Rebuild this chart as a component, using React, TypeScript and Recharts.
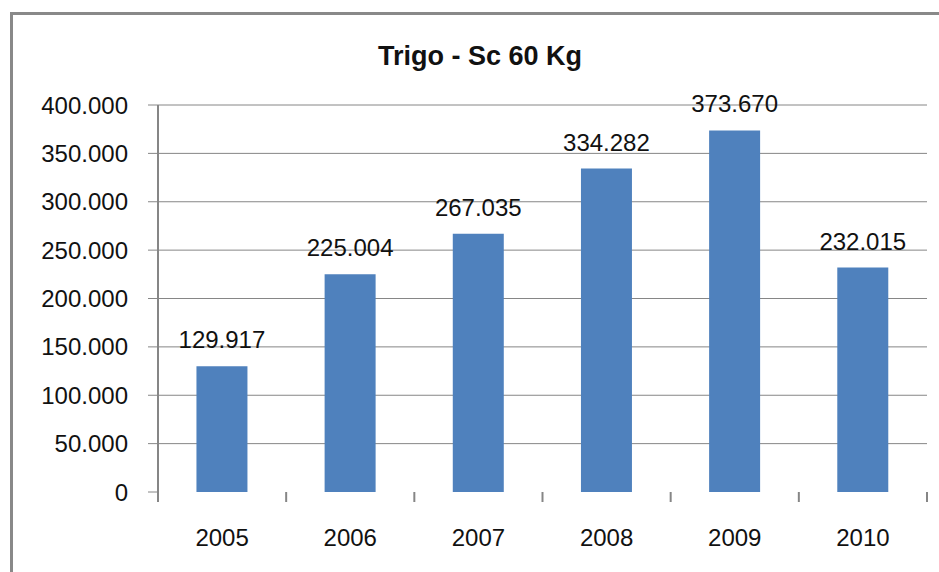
import React from "react";
import { BarChart, Bar, XAxis, YAxis, CartesianGrid, LabelList } from "recharts";

const years = ["2005", "2006", "2007", "2008", "2009", "2010"];
const sacas = [129917, 225004, 267035, 334282, 373670, 232015];
const yTicks = [0, 50000, 100000, 150000, 200000, 250000, 300000, 350000, 400000];
const Y_MAX = 400000;

const data = years.map((ano, i) => ({ ano, valor: sacas[i] }));

const GRAY = "#868686";
const BLUE = "#4F81BD";

// 400000 -> "400.000"
const fmt = (v: number) => String(v).replace(/\B(?=(\d{3})+(?!\d))/g, ".");

// grade sem a linha do zero
const gridYs = ({ yAxis, offset }: any) => {
  const s = yAxis && yAxis.scale;
  return yTicks
    .filter((v) => v > 0)
    .map((v) => {
      if (typeof s === "function") return s(v);
      if (s && typeof s.map === "function") return s.map(v);
      return offset.top + offset.height * (1 - v / Y_MAX);
    });
};

// categoria + tick nos limites (estilo Excel)
const XTick = (props: any) => {
  const { x, y, width, index, payload } = props;
  const band = width / years.length;
  return (
    <g>
      {index === 0 && (
        <line x1={x - band / 2} x2={x - band / 2} y1={y} y2={y + 10} stroke={GRAY} strokeWidth={2} />
      )}
      <line x1={x + band / 2} x2={x + band / 2} y1={y} y2={y + 10} stroke={GRAY} strokeWidth={2} />
      <text x={x} y={y + 54} textAnchor="middle" fill="#111" fontSize={24}>
        {payload.value}
      </text>
    </g>
  );
};

export default function App() {
  return (
    <div
      style={{
        position: "absolute",
        left: 0,
        top: 0,
        width: 939,
        height: 572,
        background: "#fff",
        fontFamily: "'Liberation Sans', Arial, sans-serif",
        overflow: "hidden",
      }}
    >
      <div
        style={{
          position: "absolute",
          left: 10,
          top: 12,
          width: 940,
          height: 570,
          borderLeft: "3px solid #898989",
          borderTop: "3px solid #898989",
        }}
      />
      <div
        style={{
          position: "absolute",
          left: 0,
          top: 41,
          width: 960,
          textAlign: "center",
          fontSize: 27,
          lineHeight: "30px",
          fontWeight: "bold",
          color: "#111",
        }}
      >
        Trigo - Sc 60 Kg
      </div>
      <div style={{ position: "absolute", left: 0, top: 0 }}>
        <BarChart
          width={939}
          height={572}
          data={data}
          margin={{ top: 105, right: 12, bottom: 20, left: 0 }}
          barCategoryGap="30%"
        >
          <CartesianGrid vertical={false} stroke={GRAY} horizontalCoordinatesGenerator={gridYs} />
          <XAxis
            dataKey="ano"
            axisLine={false}
            tickLine={false}
            tickSize={0}
            tickMargin={0}
            height={60}
            interval={0}
            tick={<XTick />}
          />
          <YAxis
            width={158}
            domain={[0, Y_MAX]}
            ticks={yTicks}
            interval={0}
            axisLine={{ stroke: GRAY, strokeWidth: 2 }}
            tickLine={{ stroke: GRAY }}
            tickSize={10}
            tickMargin={20}
            tickFormatter={fmt}
            tick={{ fill: "#111", fontSize: 24 }}
          />
          <Bar dataKey="valor" fill={BLUE} isAnimationActive={false}>
            <LabelList
              dataKey="valor"
              position="top"
              offset={18}
              formatter={(v: any) => fmt(Number(v))}
              fill="#111"
              fontSize={24}
            />
          </Bar>
        </BarChart>
      </div>
    </div>
  );
}
